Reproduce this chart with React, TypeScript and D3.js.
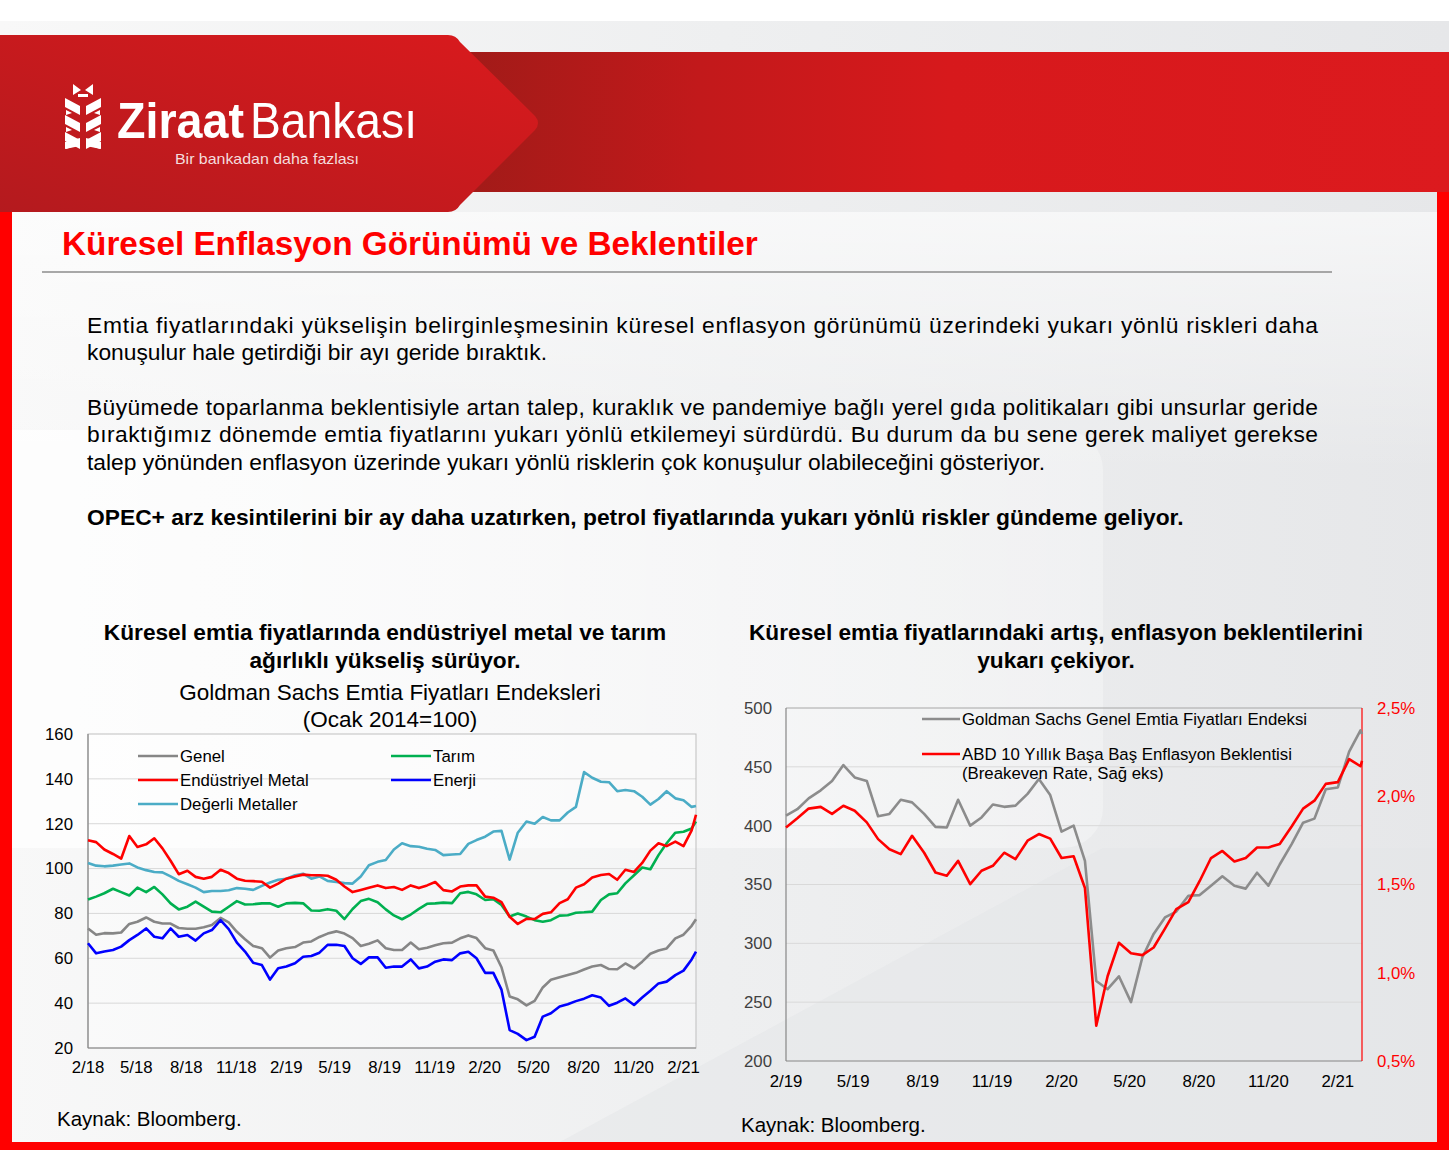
import React from "react";
import * as d3 from "d3";

const FONT = "'Liberation Sans', Arial, Helvetica, sans-serif";

// ---------- Text content ----------
const HEADER_TITLE = "Küresel Enflasyon Görünümü ve Beklentiler";
const BODY_LINES = [
  { text: "Emtia fiyatlarındaki yükselişin belirginleşmesinin küresel enflasyon görünümü üzerindeki yukarı yönlü riskleri daha", justify: true, bold: false },
  { text: "konuşulur hale getirdiği bir ayı geride bıraktık.", justify: false, bold: false },
  { text: "Büyümede toparlanma beklentisiyle artan talep, kuraklık ve pandemiye bağlı yerel gıda politikaları gibi unsurlar geride", justify: true, bold: false },
  { text: "bıraktığımız dönemde emtia fiyatlarını yukarı yönlü etkilemeyi sürdürdü. Bu durum da bu sene gerek maliyet gerekse", justify: true, bold: false },
  { text: "talep yönünden enflasyon üzerinde yukarı yönlü risklerin çok konuşulur olabileceğini gösteriyor.", justify: false, bold: false },
  { text: "OPEC+ arz kesintilerini bir ay daha uzatırken, petrol fiyatlarında yukarı yönlü riskler gündeme geliyor.", justify: false, bold: true },
];
const BODY_BASELINES = [333, 360, 415, 442, 470, 525];

const LEFT_TITLE = ["Küresel emtia fiyatlarında endüstriyel metal ve tarım", "ağırlıklı yükseliş sürüyor."];
const LEFT_SUBTITLE = ["Goldman Sachs Emtia Fiyatları Endeksleri", "(Ocak 2014=100)"];
const RIGHT_TITLE = ["Küresel emtia fiyatlarındaki artış, enflasyon beklentilerini", "yukarı çekiyor."];
const SOURCE = "Kaynak: Bloomberg.";

// ---------- Left chart data (semi-monthly, Feb 2018 - Feb 2021) ----------
const LEFT_START = new Date(2018, 1, 1);
const LEFT_END = new Date(2021, 1, 24);
const LEFT_X_TICKS = ["2/18", "5/18", "8/18", "11/18", "2/19", "5/19", "8/19", "11/19", "2/20", "5/20", "8/20", "11/20", "2/21"];
const LEFT_Y_TICKS = [20, 40, 60, 80, 100, 120, 140, 160];

const genel = [
  73.3, 70.5, 71.2, 71.1, 71.5, 75.3, 76.3, 78.2, 76.3, 75.5, 75.5, 73.5, 73.2, 73.2, 73.8, 74.8, 78, 76, 71.8, 68.5,
  65.5, 64.5, 60.3, 63.5, 64.5, 65, 67, 67.5, 69.5, 71, 72, 71, 69, 65.5, 66.5, 68, 64.5, 63.7, 63.7, 67,
  64, 64.7, 65.8, 66.7, 67, 68.9, 70.2, 69, 64.5, 63.5, 56, 43, 41.7, 39, 41, 47, 50.4, 51.5, 52.5, 53.5,
  55, 56.3, 57, 55.2, 55.1, 57.7, 55.5, 58.5, 62, 63.5, 64.4, 68.9, 70.5, 74.5, 77.4,
];
const endustriyelMetal = [
  112.6, 111.8, 108.5, 106.5, 104.4, 114.5, 109.6, 110.8, 113.5, 109, 103.5, 97.5, 99, 96.3, 95.5, 96.3, 99.5, 98, 95.5, 94.6,
  94.4, 94.1, 91.5, 93.3, 95.5, 96.5, 97.3, 97, 97, 96.8, 95, 92, 89.5, 90.5, 91.5, 92.5, 91.3, 91.8, 90.5, 92.5,
  91.3, 92.5, 94, 90.4, 89.8, 92, 92.5, 92.5, 87.5, 87, 85, 78.5, 75.3, 77.6, 77.5, 79.8, 80.5, 84.6, 86.3, 91.5,
  93, 96, 97.1, 97.6, 95, 99.5, 98.5, 102.5, 108, 111.3, 110, 112, 110, 117, 124,
];
const degerliMetaller = [
  102.5, 101.3, 101, 101.3, 101.8, 102.3, 100.5, 99.3, 98.5, 98.3, 96.5, 94.5, 93, 91.5, 89.5, 90, 90, 90.3, 91.3, 91,
  90.5, 92.3, 93.8, 95, 95.5, 97, 97.7, 95.5, 96.5, 94.5, 94, 93.5, 93.3, 96.5, 101.5, 103, 103.8, 108.5, 111.3, 110,
  109.7, 108.8, 108.3, 106, 106.3, 106.5, 111, 112.7, 114.2, 116.5, 116.8, 104, 116, 121, 120, 123, 121.5, 121.5, 125, 127.5,
  143, 140.5, 138.7, 138.5, 134.5, 135, 134.5, 132, 128.5, 131, 134.5, 131.3, 130.5, 127.5, 127.9,
];
const tarim = [
  86.2, 87.5, 89, 91, 89.5, 88, 91.5, 89.5, 91.8, 88.5, 84.5, 81.8, 83, 85.3, 83, 80.8, 80.5, 83, 85.5, 84,
  84.1, 84.5, 84.5, 83, 84.5, 84.7, 84.5, 81.3, 81.2, 81.9, 81.2, 77.5, 82, 85.5, 86.5, 85, 81.8, 79.1, 77.4, 79.5,
  82, 84.3, 84.5, 84.8, 84.6, 89, 89.6, 88.5, 86, 86.3, 83.8, 78.6, 80, 78.6, 77, 76.3, 77, 79, 79.2, 80.3,
  80.5, 80.8, 86, 88.5, 89, 93.4, 97, 100.5, 99.7, 106, 111.3, 116, 116.4, 117.9, 121,
];
const enerji = [
  66.7, 62.2, 63, 63.7, 65.2, 68.1, 70.4, 73.3, 69.6, 68.9, 73.3, 69.6, 70.4, 67.9, 71.1, 72.6, 77, 73, 67, 63,
  58, 57, 50.5, 55.6, 56.3, 57.8, 60.7, 61, 62.5, 66, 66, 65.5, 60, 57.5, 60.4, 60.4, 55.8, 56.3, 56.3, 59.5,
  55.5, 56.3, 58.5, 59.5, 59.2, 62.2, 62.9, 60, 53.5, 53.5, 46, 28, 26.3, 23.5, 25, 34, 35.5, 38.5, 39.5, 40.9,
  42, 43.5, 42.5, 38.8, 40.2, 42.1, 39.2, 42.5, 45.5, 48.8, 49.6, 52.5, 54.5, 59.5, 63,
];

const LEFT_SERIES = [
  { name: "Genel", values: genel, color: "#868686" },
  { name: "Endüstriyel Metal", values: endustriyelMetal, color: "#ff0000" },
  { name: "Değerli Metaller", values: degerliMetaller, color: "#4bacc6" },
  { name: "Tarım", values: tarim, color: "#00b050" },
  { name: "Enerji", values: enerji, color: "#0000ff" },
];
const LEFT_DRAW_ORDER = ["Değerli Metaller", "Tarım", "Genel", "Enerji", "Endüstriyel Metal"];

// ---------- Right chart data (semi-monthly, Feb 2019 - Mar 2021) ----------
const RIGHT_START = new Date(2019, 1, 1);
const RIGHT_END = new Date(2021, 2, 5);
const RIGHT_X_TICKS = ["2/19", "5/19", "8/19", "11/19", "2/20", "5/20", "8/20", "11/20", "2/21"];
const RIGHT_Y_TICKS = [200, 250, 300, 350, 400, 450, 500];
const RIGHT_Y2_TICKS = [0.5, 1.0, 1.5, 2.0, 2.5];
const RIGHT_Y2_LABELS = ["0,5%", "1,0%", "1,5%", "2,0%", "2,5%"];

const gsGenel = [
  408.5, 414, 423.2, 430, 438, 451.5, 441, 438, 408, 410, 422, 419.8, 410, 399, 398.5, 422, 400, 407, 418, 416,
  417, 427, 439.6, 426, 395, 400, 370, 268, 261, 272, 250, 288, 308, 322, 327, 340.5, 341, 349, 357, 349,
  346.5, 360, 349, 367, 384.5, 402.5, 406, 431, 432.5, 463, 481, 478,
];
const breakeven = [
  1.823, 1.875, 1.93, 1.94, 1.9, 1.946, 1.918, 1.852, 1.757, 1.7, 1.672, 1.776, 1.68, 1.568, 1.55, 1.634, 1.502, 1.578, 1.606, 1.68,
  1.644, 1.748, 1.786, 1.76, 1.65, 1.66, 1.48, 0.7, 0.98, 1.17, 1.11, 1.1, 1.143, 1.25, 1.36, 1.4, 1.52, 1.65, 1.69, 1.63,
  1.65, 1.71, 1.71, 1.73, 1.83, 1.93, 1.975, 2.07, 2.08, 2.21, 2.17, 2.2,
];
const RIGHT_LEGEND = [
  ["Goldman Sachs Genel Emtia Fiyatları Endeksi"],
  ["ABD 10 Yıllık Başa Baş Enflasyon Beklentisi", "(Breakeven Rate, Sağ eks)"],
];

function buildDates(start: Date, n: number, end: Date) {
  return d3.range(n - 1).map((i) => d3.timeDay.offset(start, Math.round(i * 15.22))).concat([end]);
}
function parseTick(s: string) {
  const [m, y] = s.split("/").map(Number);
  return new Date(2000 + y, m - 1, 1);
}

const AX = 16.8;

function LeftChart() {
  const L = 88, R = 696, T = 734, B = 1048;
  const dates = buildDates(LEFT_START, genel.length, LEFT_END);
  const x = d3.scaleTime().domain([LEFT_START, LEFT_END]).range([L, R]);
  const y = d3.scaleLinear().domain([20, 160]).range([B, T]);
  const line = d3.line<number>().x((_, i) => x(dates[i])).y((v) => y(v)).curve(d3.curveLinear);
  const byName = (n: string) => LEFT_SERIES.find((s) => s.name === n)!;
  return (
    <g fontFamily={FONT}>
      <rect x={L} y={T} width={R - L} height={B - T} fill="#ffffff" opacity={0.35} />
      {LEFT_Y_TICKS.map((t) => (
        <g key={t}>
          {t !== 20 && t !== 160 && <line x1={L} x2={R} y1={y(t)} y2={y(t)} stroke="#d9d9d9" strokeWidth={1} />}
          <text x={L - 15} y={y(t)} dy="0.35em" textAnchor="end" fontSize={AX} fill="#000">{t}</text>
        </g>
      ))}
      <rect x={L} y={T} width={R - L} height={B - T} fill="none" stroke="#bfbfbf" strokeWidth={1} />
      <line x1={L} x2={L} y1={T} y2={B} stroke="#868686" strokeWidth={1.2} />
      <line x1={L} x2={R} y1={B} y2={B} stroke="#868686" strokeWidth={1.2} />
      {LEFT_X_TICKS.map((t) => (
        <text key={t} x={x(parseTick(t))} y={B + 25} textAnchor="middle" fontSize={AX} fill="#000">{t}</text>
      ))}
      {LEFT_DRAW_ORDER.map((n) => {
        const s = byName(n);
        return <path key={n} d={line(s.values) || ""} fill="none" stroke={s.color} strokeWidth={2.6} strokeLinejoin="round" />;
      })}
      {LEFT_SERIES.map((s, i) => {
        const col = i < 3 ? 0 : 1;
        const row = i < 3 ? i : i - 3;
        const lx = col === 0 ? 138 : 391;
        const ly = 756 + row * 24;
        return (
          <g key={s.name}>
            <line x1={lx} x2={lx + 40} y1={ly} y2={ly} stroke={s.color} strokeWidth={2.6} />
            <text x={lx + 42} y={ly} dy="0.35em" fontSize={AX} fill="#000">{s.name}</text>
          </g>
        );
      })}
    </g>
  );
}

function RightChart() {
  const L = 786, R = 1362, T = 708, B = 1061;
  const dates = buildDates(RIGHT_START, gsGenel.length, RIGHT_END);
  const x = d3.scaleTime().domain([RIGHT_START, RIGHT_END]).range([L, R]);
  const y = d3.scaleLinear().domain([200, 500]).range([B, T]);
  const y2 = d3.scaleLinear().domain([0.5, 2.5]).range([B, T]);
  const lineL = d3.line<number>().x((_, i) => x(dates[i])).y((v) => y(v));
  const lineR = d3.line<number>().x((_, i) => x(dates[i])).y((v) => y2(v));
  return (
    <g fontFamily={FONT}>
      {RIGHT_Y_TICKS.map((t) => (
        <g key={t}>
          {t !== 200 && t !== 500 && <line x1={L} x2={R} y1={y(t)} y2={y(t)} stroke="#d9d9d9" strokeWidth={1} />}
          <text x={L - 14} y={y(t)} dy="0.35em" textAnchor="end" fontSize={AX} fill="#404040">{t}</text>
        </g>
      ))}
      {RIGHT_Y2_TICKS.map((t, i) => (
        <text key={t} x={R + 15} y={y2(t)} dy="0.35em" textAnchor="start" fontSize={AX} fill="#ff0000">{RIGHT_Y2_LABELS[i]}</text>
      ))}
      <line x1={L} x2={R} y1={T} y2={T} stroke="#a6a6a6" strokeWidth={1} />
      <line x1={L} x2={L} y1={T} y2={B} stroke="#868686" strokeWidth={1.2} />
      <line x1={L} x2={R} y1={B} y2={B} stroke="#868686" strokeWidth={1.2} />
      <line x1={R} x2={R} y1={T} y2={B} stroke="#ff0000" strokeWidth={1.2} />
      {RIGHT_X_TICKS.map((t) => (
        <text key={t} x={x(parseTick(t))} y={B + 26} textAnchor="middle" fontSize={AX} fill="#000">{t}</text>
      ))}
      <path d={lineL(gsGenel) || ""} fill="none" stroke="#8c8c8c" strokeWidth={2.6} strokeLinejoin="round" />
      <path d={lineR(breakeven) || ""} fill="none" stroke="#ff0000" strokeWidth={2.6} strokeLinejoin="round" />
      {RIGHT_LEGEND.map((lines, i) => {
        const ly = 719 + i * 35;
        return (
          <g key={i}>
            <line x1={922} x2={960} y1={ly} y2={ly} stroke={i === 0 ? "#8c8c8c" : "#ff0000"} strokeWidth={2.6} />
            {lines.map((s, j) => (
              <text key={j} x={962} y={ly + j * 19} dy="0.35em" fontSize={AX} fill="#000">{s}</text>
            ))}
          </g>
        );
      })}
    </g>
  );
}

function Logo() {
  const leaves = [0, 1, 2];
  return (
    <g fill="#fff">
      {leaves.map((k) => {
        const y0 = 98 + k * 17;
        return (
          <g key={k}>
            <polygon points={`65,${y0} 80,${y0 + 8} 80,${y0 + 17} 65,${y0 + 9}`} />
            <polygon points={`66,${y0 + 12} 72,${y0 + 15} 66,${y0 + 17}`} />
            <polygon points={`101,${y0} 86,${y0 + 8} 86,${y0 + 17} 101,${y0 + 9}`} />
            <polygon points={`100,${y0 + 12} 94,${y0 + 15} 100,${y0 + 17}`} />
          </g>
        );
      })}
      <polygon points="65,149 80,146 80,138 65,142" />
      <polygon points="101,149 86,146 86,138 101,142" />
      <path d="M73,84 l8,6 l-8,5 z M93,84 l-8,6 l8,5 z M78,94 h10 v3 h-10 z" />
      <text x={117} y={138} fontFamily={FONT} fontWeight="bold" fontSize={50} textLength={127} lengthAdjust="spacingAndGlyphs">Ziraat</text>
      <text x={250} y={138} fontFamily={FONT} fontSize={50} textLength={167} lengthAdjust="spacingAndGlyphs">Bankası</text>
      <text x={175} y={164} fontFamily={FONT} fontSize={14.5} textLength={184} lengthAdjust="spacingAndGlyphs" fill="#f4dcdc">Bir bankadan daha fazlası</text>
    </g>
  );
}

export default function App() {
  const W = 1449, H = 1150;
  return (
    <div style={{ position: "absolute", left: 0, top: 0, width: W, height: H }}>
      <svg width={W} height={H} viewBox={`0 0 ${W} ${H}`} style={{ display: "block" }}>
        <defs>
          <linearGradient id="bg" x1="0" x2="1" y1="0" y2="0">
            <stop offset="0" stopColor="#f8f8f8" />
            <stop offset="0.5" stopColor="#eeeff0" />
            <stop offset="1" stopColor="#e6e7e9" />
          </linearGradient>
          <linearGradient id="band" x1="450" x2="1449" y1="0" y2="0" gradientUnits="userSpaceOnUse">
            <stop offset="0" stopColor="#9f1b18" />
            <stop offset="0.25" stopColor="#c2191b" />
            <stop offset="0.5" stopColor="#d7191c" />
            <stop offset="1" stopColor="#dc1a1e" />
          </linearGradient>
          <linearGradient id="logoBg" x1="0" x2="1" y1="1" y2="0">
            <stop offset="0" stopColor="#b41a1e" />
            <stop offset="1" stopColor="#da1a1d" />
          </linearGradient>
          <linearGradient id="panel" x1="0" x2="1" y1="0" y2="0">
            <stop offset="0" stopColor="#ffffff" stopOpacity="0.8" />
            <stop offset="1" stopColor="#ffffff" stopOpacity="0.3" />
          </linearGradient>
          <linearGradient id="topFade" x1="0" x2="0" y1="0" y2="1">
            <stop offset="0" stopColor="#ffffff" stopOpacity="0.6" />
            <stop offset="1" stopColor="#ffffff" stopOpacity="0" />
          </linearGradient>
        </defs>
        <rect x={0} y={0} width={W} height={H} fill="#ffffff" />
        <rect x={0} y={21} width={W} height={H - 21} fill="url(#bg)" />
        <rect x={0} y={212} width={W} height={260} fill="url(#topFade)" />
        <rect x={-40} y={430} width={1143} height={418} rx={40} fill="url(#panel)" />
        <polygon points="560,1142 1103,848 1437,848 1437,1142" fill="#e4e5e7" opacity={0.5} />

        {/* header */}
        <rect x={440} y={52} width={W - 440} height={140} fill="url(#band)" />
        <path d="M0,35 L448,35 Q456,35 460,42 L535,116 Q541,123 535,130 L460,205 Q456,212 448,212 L0,212 Z" fill="url(#logoBg)" />
        <Logo />

        {/* frame */}
        <rect x={0} y={212} width={12} height={H - 212} fill="#ff0000" />
        <rect x={1437} y={192} width={12} height={H - 192} fill="#ff0000" />
        <rect x={0} y={1142} width={W} height={8} fill="#ff0000" />

        {/* title */}
        <text x={62} y={255} fontFamily={FONT} fontWeight="bold" fontSize={33.3} fill="#ff0000">{HEADER_TITLE}</text>
        <line x1={42} x2={1332} y1={272} y2={272} stroke="#8c8c8c" strokeWidth={1.5} />

        {/* body */}
        {BODY_LINES.map((l, i) => (
          <text
            key={i}
            x={87}
            y={BODY_BASELINES[i]}
            fontFamily={FONT}
            fontSize={22.8}
            fontWeight={l.bold ? "bold" : "normal"}
            fill="#000"
            {...(l.justify ? { textLength: 1231, lengthAdjust: "spacing" } : {})}
          >
            {l.text}
          </text>
        ))}

        {/* chart titles */}
        <g fontFamily={FONT} textAnchor="middle" fill="#000">
          <text x={385} y={640} fontWeight="bold" fontSize={22.7}>{LEFT_TITLE[0]}</text>
          <text x={385} y={668} fontWeight="bold" fontSize={22.7}>{LEFT_TITLE[1]}</text>
          <text x={390} y={700} fontSize={22.5}>{LEFT_SUBTITLE[0]}</text>
          <text x={390} y={727} fontSize={22.5}>{LEFT_SUBTITLE[1]}</text>
          <text x={1056} y={640} fontWeight="bold" fontSize={22.7}>{RIGHT_TITLE[0]}</text>
          <text x={1056} y={668} fontWeight="bold" fontSize={22.7}>{RIGHT_TITLE[1]}</text>
        </g>

        <LeftChart />
        <RightChart />

        <text x={57} y={1126} fontFamily={FONT} fontSize={20.5} fill="#000">{SOURCE}</text>
        <text x={741} y={1132} fontFamily={FONT} fontSize={20.5} fill="#000">{SOURCE}</text>
      </svg>
    </div>
  );
}
